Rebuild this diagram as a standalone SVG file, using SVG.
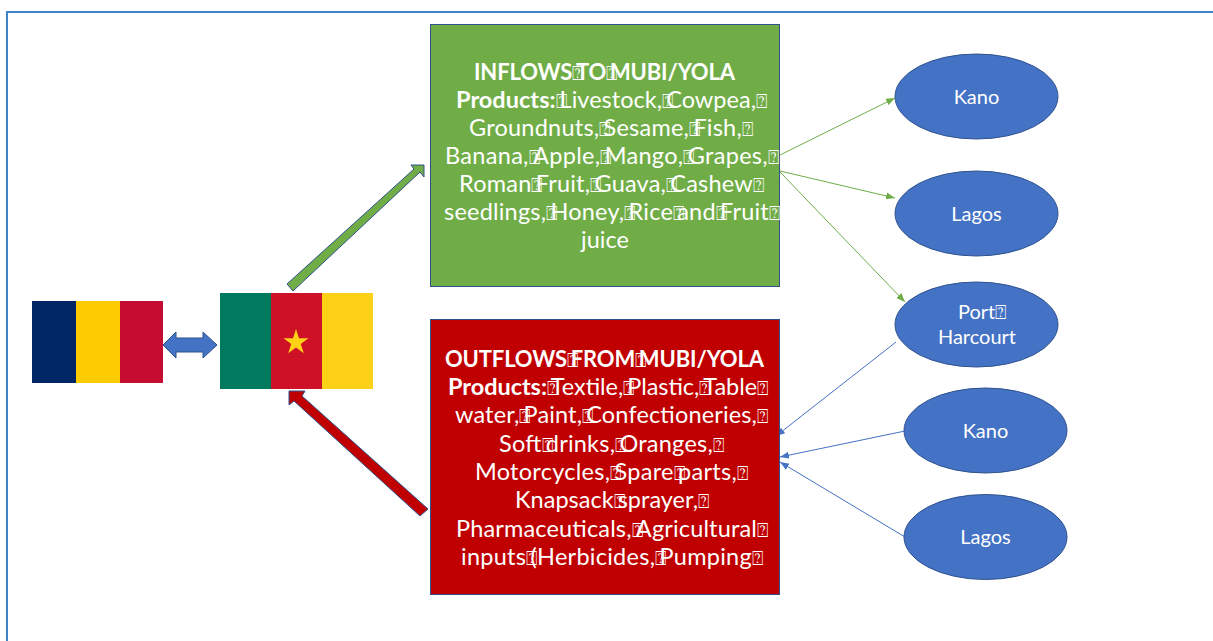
<svg xmlns="http://www.w3.org/2000/svg" width="1213" height="641" viewBox="0 0 1213 641">
<style>
.t{font-family:Lato,"Liberation Sans",sans-serif;font-size:23.500px;fill:#fff}
.b{font-weight:700}
.h{font-size:22px}
.q{font-family:"DejaVu Sans",sans-serif;font-size:19px;font-weight:400;letter-spacing:-7px}
.n{font-family:Lato,"Liberation Sans",sans-serif;font-size:20px;fill:#fff;text-anchor:middle}
.o{fill:#4472c4;stroke:#2f528f;stroke-width:1}
.g{stroke:#70ad47;stroke-width:1;fill:none;marker-end:url(#ag)}
.u{stroke:#4472c4;stroke-width:1;fill:none;marker-end:url(#au)}
</style>
<defs>
<marker id="ag" markerUnits="userSpaceOnUse" markerWidth="10" markerHeight="8" refX="9" refY="4" orient="auto"><path d="M0 0.500L9 4L0 7.500z" fill="#70ad47"/></marker>
<marker id="au" markerUnits="userSpaceOnUse" markerWidth="10" markerHeight="8" refX="9" refY="4" orient="auto"><path d="M0 0.500L9 4L0 7.500z" fill="#4472c4"/></marker>
</defs>
<rect width="1213" height="641" fill="#fff"/>
<path id="frame" d="M7 641V12H1213" fill="none" stroke="#3f84c6" stroke-width="2"/>
<g id="flag-chad"><rect x="32" y="301" width="44" height="82" fill="#002664"/><rect x="76" y="301" width="44" height="82" fill="#fecb00"/><rect x="120" y="301" width="43" height="82" fill="#c60c30"/></g>
<g id="flag-cameroon"><rect x="220" y="293" width="51" height="96" fill="#007a5e"/><rect x="271" y="293" width="51" height="96" fill="#ce1126"/><rect x="322" y="293" width="51" height="96" fill="#fcd116"/><path d="M296 329l3 9.300h9.500l-7.700 5.700 3 9.300-7.800-5.800-7.800 5.800 3-9.300-7.700-5.700h9.500z" fill="#fcd116"/></g>
<g id="connectors">
<path class="g" d="M780 155L895 98"/><path class="g" d="M780 171L895 198"/><path class="g" d="M780 172L905 302"/>
<path class="u" d="M896 342L776 436"/><path class="u" d="M905 431L780 457"/><path class="u" d="M905 537L780 462"/>
<path d="M163 345L176 332V338H203V332L217 345L203 358V352H176V358z" fill="#4472c4" stroke="#2f528f"/>
<path d="M287 284L414 169L411 165L424 165L424 177L420 172L293 291z" fill="#70ad47" stroke="#2f528f"/>
<path d="M428 509L302 396L305 391L289 391L289 405L294 401L420 516z" fill="#c00000" stroke="#2f528f"/>
</g>
<g id="inflows"><rect x="430.500" y="24.500" width="349" height="262" fill="#70ad47" stroke="#2f528f"/>
<text class="t b h" x="474" y="80" textLength="261">INFLOWS<tspan class="q">⍰</tspan>TO<tspan class="q">⍰</tspan>MUBI/YOLA</text>
<text class="t" x="456" y="108" textLength="304"><tspan class="b">Products:</tspan><tspan class="q">⍰</tspan>Livestock,<tspan class="q">⍰</tspan>Cowpea,<tspan class="q">⍰</tspan></text>
<text class="t" x="469" y="136" textLength="277">Groundnuts,<tspan class="q">⍰</tspan>Sesame,<tspan class="q">⍰</tspan>Fish,<tspan class="q">⍰</tspan></text>
<text class="t" x="445" y="164" textLength="327">Banana,<tspan class="q">⍰</tspan>Apple,<tspan class="q">⍰</tspan>Mango,<tspan class="q">⍰</tspan>Grapes,<tspan class="q">⍰</tspan></text>
<text class="t" x="459" y="192" textLength="298">Roman<tspan class="q">⍰</tspan>Fruit,<tspan class="q">⍰</tspan>Guava,<tspan class="q">⍰</tspan>Cashew<tspan class="q">⍰</tspan></text>
<text class="t" x="444" y="220" textLength="329">seedlings,<tspan class="q">⍰</tspan>Honey,<tspan class="q">⍰</tspan>Rice<tspan class="q">⍰</tspan>and<tspan class="q">⍰</tspan>Fruit<tspan class="q">⍰</tspan></text>
<text class="t" x="581" y="248" textLength="48">juice</text></g>
<g id="outflows"><rect x="430.500" y="319.500" width="349" height="275" fill="#c00000" stroke="#2f528f"/>
<text class="t b h" x="445" y="367" textLength="319">OUTFLOWS<tspan class="q">⍰</tspan>FROM<tspan class="q">⍰</tspan>MUBI/YOLA</text>
<text class="t" x="448" y="395" textLength="313"><tspan class="b">Products:</tspan><tspan class="q">⍰</tspan>Textile,<tspan class="q">⍰</tspan>Plastic,<tspan class="q">⍰</tspan>Table<tspan class="q">⍰</tspan></text>
<text class="t" x="455" y="423" textLength="306">water,<tspan class="q">⍰</tspan>Paint,<tspan class="q">⍰</tspan>Confectioneries,<tspan class="q">⍰</tspan></text>
<text class="t" x="499" y="452" textLength="218">Soft<tspan class="q">⍰</tspan>drinks,<tspan class="q">⍰</tspan>Oranges,<tspan class="q">⍰</tspan></text>
<text class="t" x="475" y="480" textLength="266">Motorcycles,<tspan class="q">⍰</tspan>Spare<tspan class="q">⍰</tspan>parts,<tspan class="q">⍰</tspan></text>
<text class="t" x="515" y="508" textLength="187">Knapsack<tspan class="q">⍰</tspan>sprayer,<tspan class="q">⍰</tspan></text>
<text class="t" x="456" y="537" textLength="305">Pharmaceuticals,<tspan class="q">⍰</tspan>Agricultural<tspan class="q">⍰</tspan></text>
<text class="t" x="461" y="565" textLength="295">inputs<tspan class="q">⍰</tspan>(Herbicides,<tspan class="q">⍰</tspan>Pumping<tspan class="q">⍰</tspan></text></g>
<g id="kano1"><ellipse class="o" cx="976.500" cy="96.500" rx="81.500" ry="42.500"/><text class="n" x="976.500" y="104">Kano</text></g>
<g id="lagos1"><ellipse class="o" cx="976.500" cy="213.500" rx="81.500" ry="42.500"/><text class="n" x="976.500" y="221">Lagos</text></g>
<g id="port-harcourt"><ellipse class="o" cx="976.500" cy="324.500" rx="81.500" ry="42.500"/><text class="n" x="958" y="319" style="text-anchor:start">Port<tspan class="q">⍰</tspan></text><text class="n" x="977" y="344">Harcourt</text></g>
<g id="kano2"><ellipse class="o" cx="985.500" cy="430.500" rx="81.500" ry="42.500"/><text class="n" x="985.500" y="438">Kano</text></g>
<g id="lagos2"><ellipse class="o" cx="985.500" cy="537" rx="81.500" ry="42.500"/><text class="n" x="985.500" y="544">Lagos</text></g>
</svg>
